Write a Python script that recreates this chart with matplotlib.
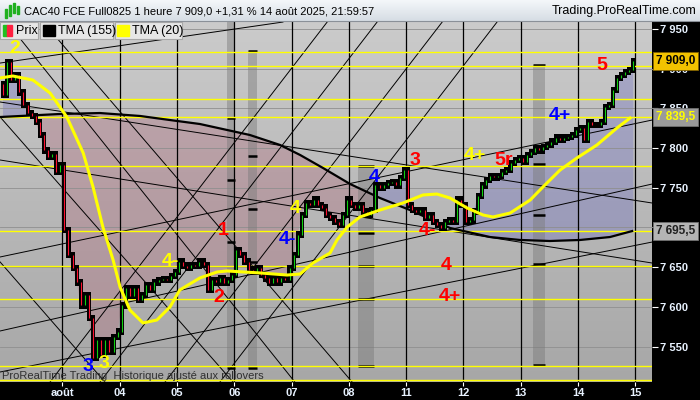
import numpy as np
import matplotlib.pyplot as plt
from matplotlib.patches import Rectangle
from matplotlib.colors import LinearSegmentedColormap

plt.rcParams['font.family'] = ['Liberation Sans', 'DejaVu Sans']

# hourly closes, 31 Jul (evening) .. 14 Aug 2025
first_open = 7880
closes = [
    7867, 7908, 7886, 7892, 7870, 7854, 7844, 7840, 7833, 7816, 7797, 7789, 7792, 7770, 7779,
    7697, 7665, 7649, 7631, 7602, 7615, 7586, 7536, 7558, 7540, 7558, 7543, 7562, 7569,
    7602, 7624, 7614, 7624, 7609, 7615, 7628, 7621, 7631, 7634, 7635, 7634, 7639, 7644,
    7657, 7652, 7649, 7653, 7652, 7657, 7653, 7621, 7634, 7631, 7636, 7630, 7634, 7640,
    7672, 7665, 7657, 7647, 7644, 7649, 7640, 7636, 7630, 7636, 7631, 7636, 7634, 7649,
    7665, 7691, 7716, 7731, 7728, 7735, 7728, 7725, 7716, 7712, 7707, 7703, 7716, 7735,
    7728, 7725, 7728, 7720, 7716, 7722, 7753, 7750, 7753, 7756, 7757, 7753, 7762, 7772,
    7728, 7722, 7720, 7722, 7712, 7716, 7707, 7703, 7699, 7707, 7709, 7707, 7735, 7728,
    7707, 7709, 7720, 7740, 7753, 7760, 7765, 7763, 7765, 7770, 7772, 7781, 7785, 7787,
    7782, 7791, 7795, 7800, 7797, 7801, 7804, 7808, 7813, 7810, 7813, 7814, 7816, 7823,
    7825, 7810, 7833, 7829, 7829, 7833, 7852, 7854, 7873, 7888, 7892, 7896, 7898, 7909,
]

# moving averages (bar index, price)
tma155_x = [-0.7, 13.9, 23.7, 33.5, 40.8, 48.1, 60.3, 67.7, 72.6, 78.2, 84.8, 92.1, 99.4,
            109.2, 119.0, 126.3, 133.6, 141.0, 148.3, 153.7]
tma155_y = [7839.0, 7842.8, 7844.0, 7840.3, 7835.2, 7830.2, 7816.4, 7803.8, 7791.2, 7774.8,
            7754.7, 7737.1, 7722.0, 7699.4, 7688.0, 7684.3, 7683.0, 7684.3, 7688.0, 7695.5]
tma20_x = [-0.7, 2.4, 7.3, 11.5, 15.6, 19.6, 22.0, 24.4, 26.9, 28.6, 31.0, 34.2, 37.6, 40.8,
           43.2, 48.1, 52.3, 54.7, 62.8, 69.4, 72.6, 75.7, 79.9, 81.6, 84.1, 87.2, 92.1, 97.7,
           102.6, 106.0, 109.2, 113.4, 117.3, 119.7, 123.9, 128.8, 131.9, 136.1, 140.2, 145.1,
           150.0, 153.2]
tma20_y = [7888.1, 7890.6, 7885.5, 7869.2, 7839.0, 7793.7, 7750.9, 7700.6, 7659.1, 7625.1,
           7596.2, 7579.9, 7583.6, 7600.0, 7621.4, 7636.5, 7644.0, 7645.3, 7642.8, 7640.2,
           7641.5, 7655.3, 7667.9, 7684.3, 7700.6, 7713.2, 7722.0, 7730.8, 7740.9, 7742.1,
           7737.1, 7724.5, 7715.7, 7713.2, 7718.2, 7734.6, 7750.9, 7772.3, 7787.4, 7803.8,
           7825.2, 7837.7]

levels = [7920.8, 7903.2, 7861.6, 7839.5, 7777.4, 7695.5, 7651.6, 7610.0, 7525.8, 7508.1]

# trend lines: (bar0, price0, bar1, price1)
trend_lines = [
    (-0.7, 7906.9, 68.4, 7958.5),
    (-0.7, 7857.9, 158.6, 7730.8),
    (-0.7, 7784.9, 158.6, 7655.3),
    (-0.7, 7518.2, 158.6, 7681.7),
    (-0.7, 7569.8, 158.6, 7754.7),
    (-0.7, 7662.9, 158.6, 7835.2),
    (-0.7, 7656.6, 24.9, 7505.6),
    (-0.7, 7839.0, 56.2, 7505.6),
    (2.9, 7945.9, 71.3, 7505.6),
    (9.8, 7958.5, 85.3, 7505.6),
    (11.5, 7505.6, 79.2, 7958.5),
    (23.7, 7505.6, 91.4, 7958.5),
    (39.6, 7505.6, 107.3, 7958.5),
    (53.0, 7505.6, 120.7, 7958.5),
]

# grey range bands: (bar0, bar1, top, bottom, marks)
bands = [
    (54.7, 56.7, 7960.0, 7523.2, [7837.7, 7759.7, 7681.7, 7523.2]),
    (59.9, 62.1, 7922.0, 7523.2, [7922.0, 7789.9, 7723.3, 7656.6, 7523.2]),
    (86.7, 90.6, 7777.4, 7525.8, [7777.4, 7693.1, 7651.6, 7610.0, 7525.8]),
    (129.5, 132.4, 7904.4, 7527.0, [7904.4, 7779.9, 7715.7, 7654.1, 7527.0]),
]

wave_labels = [
    (2.9, 7925.8, '2', '#ffff00'),
    (20.8, 7524.5, '3', '#0000ff'),
    (24.7, 7529.5, '3', '#ffff00'),
    (40.8, 7656.6, '4-', '#ffff00'),
    (53.8, 7695.6, '1', '#ff0000'),
    (52.8, 7611.3, '2', '#ff0000'),
    (69.4, 7684.3, '4-', '#0000ff'),
    (71.3, 7724.5, '4', '#ffff00'),
    (90.6, 7763.5, '4', '#0000ff'),
    (100.7, 7784.9, '3', '#ff0000'),
    (103.8, 7696.8, '4-', '#ff0000'),
    (108.2, 7652.8, '4', '#ff0000'),
    (109.2, 7612.6, '4+', '#ff0000'),
    (115.3, 7791.2, '4+', '#ffff00'),
    (122.2, 7784.9, '5r', '#ff0000'),
    (136.1, 7841.5, '4+', '#0000ff'),
    (146.3, 7904.4, '5', '#ff0000'),
]

day_pos = [14.5, 28.5, 42.5, 56.5, 70.5, 84.5, 98.5, 112.5, 126.5, 140.5, 154.5]
day_labels = ['août', '04', '05', '06', '07', '08', '11', '12', '13', '14', '15']
y_ticks = [7550, 7600, 7650, 7700, 7750, 7800, 7850, 7900, 7950]
# 7 700 sits fully under the TMA(155) price tag
y_labels = ['7 550', '7 600', '7 650', '', '7 750', '7 800', '7 850', '7 900', '7 950']

fig = plt.figure(figsize=(7, 4), dpi=100, facecolor='black')
ax = fig.add_axes([0, 18 / 400, 652 / 700, 361 / 400])
x0, x1 = -0.73, 158.56
y0, y1 = 7505.6, 7959.8
ax.set_xlim(x0, x1)
ax.set_ylim(y0, y1)

# background gradient
grad = np.linspace(0, 1, 256).reshape(-1, 1)
ax.imshow(grad, extent=[x0, x1, y0, y1], aspect='auto', zorder=0, origin='upper',
          cmap=LinearSegmentedColormap.from_list('bg', ['#cbcbcb', '#a7a7a7']))

bars = np.arange(len(closes))
c = np.array(closes, dtype=float)
o = np.concatenate([[first_open], c[:-1]])
tma_on_bars = np.interp(bars, tma155_x, tma155_y)

ax.fill_between(bars, c, tma_on_bars, where=c < tma_on_bars, interpolate=True,
                color='#b07080', alpha=0.38, lw=0, zorder=1)
ax.fill_between(bars, c, tma_on_bars, where=c >= tma_on_bars, interpolate=True,
                color='#6a6ac0', alpha=0.35, lw=0, zorder=1)

for t in y_ticks:
    ax.axhline(t, color='#8f8f8f', lw=0.6, zorder=1.5)

for b0, b1, top, bot, marks in bands:
    ax.add_patch(Rectangle((b0, bot), b1 - b0, top - bot, color='#7a7a7a', alpha=0.45, lw=0, zorder=1.6))
    for m in marks:
        ax.plot([b0, b1], [m, m], color='black', lw=1.8, zorder=1.7, solid_capstyle='butt')

for d in day_pos:
    ax.axvline(d, color='black', lw=0.9, zorder=2)

for bx0, p0, bx1, p1 in trend_lines:
    ax.plot([bx0, bx1], [p0, p1], color='black', lw=0.7, zorder=2.2)

for lv in levels:
    ax.axhline(lv, color='#ffff00', lw=1.0, zorder=2.4)

ax.plot(tma155_x, tma155_y, color='black', lw=1.6, zorder=3)

# candles
lo = np.minimum(o, c) - 4.0
hi = np.maximum(o, c) + 4.0
ax.bar(bars, hi - lo, bottom=lo, width=1.0, color='black', lw=0, zorder=4)
cols = np.where(c >= o, '#10d010', '#ff1030')
ax.vlines(bars, np.minimum(o, c), np.maximum(o, c), colors=cols, lw=0.8, zorder=4.5)

ax.plot(tma20_x, tma20_y, color='#ffff00', lw=2.2, zorder=5)

for bx, p, txt, col in wave_labels:
    ax.text(bx, p, txt, color=col, fontsize=14, fontweight='bold', ha='center', va='center', zorder=6)

# axes styling
for s in ax.spines.values():
    s.set_visible(False)
ax.yaxis.tick_right()
ax.set_yticks(y_ticks)
ax.set_yticklabels(y_labels)
ax.set_xticks(day_pos)
ax.set_xticklabels(day_labels)
ax.tick_params(axis='y', colors='white', length=4, pad=2, labelsize=8, labelcolor='#e8f2ff')
ax.tick_params(axis='x', colors='white', length=3, pad=1, labelsize=8, labelcolor='#e8f2ff')
for lab in ax.get_xticklabels() + ax.get_yticklabels():
    lab.set_fontweight('bold')

ytr = ax.get_yaxis_transform()
tag_style = dict(transform=ytr, fontsize=8.5, fontweight='bold', va='center', ha='left',
                 zorder=10, clip_on=False)
ax.text(1.006, 7909.0, '7 909,0', color='black',
        bbox=dict(boxstyle='square,pad=0.25', fc='#f2c200', ec='#806000', lw=0.6), **tag_style)
ax.text(1.006, 7839.5, '7 839,5', color='#ffff00',
        bbox=dict(boxstyle='square,pad=0.25', fc='#9a9a9a', ec='#707070', lw=0.6), **tag_style)
ax.text(1.006, 7695.5, '7 695,5', color='#202020',
        bbox=dict(boxstyle='square,pad=0.25', fc='#b4b4b4', ec='#707070', lw=0.6), **tag_style)

# overlay in pixel coordinates: title bar, legend, watermark
ov = fig.add_axes([0, 0, 1, 1], zorder=10)
ov.patch.set_alpha(0)
ov.imshow(np.linspace(0, 1, 64).reshape(-1, 1), extent=[0, 700, 21, 0], aspect='auto',
          cmap=LinearSegmentedColormap.from_list('tb', ['#f4f7fa', '#d6dde4']))
ov.plot([0, 700], [21, 21], color='#8a9098', lw=0.8)
ov.set_xlim(0, 700)
ov.set_ylim(400, 0)
ov.axis('off')

ov.add_patch(Rectangle((5, 9), 2, 9, color='#20b020'))
ov.add_patch(Rectangle((9, 5), 2, 11, color='#20b020'))
ov.add_patch(Rectangle((13, 3), 2, 10, color='#20b020'))
ov.add_patch(Rectangle((17, 6), 2, 8, color='#20b020'))
ov.text(24, 11, 'CAC40 FCE Full0825 1 heure 7 909,0 +1,31 % 14 août 2025, 21:59:57',
        fontsize=8, va='center', ha='left', color='black')
ov.text(696, 11, 'Trading.ProRealTime.com', fontsize=9, va='center', ha='right', color='black')

legend_boxes = [(0, 38), (40, 113), (115, 182)]
for bx0, bx1 in legend_boxes:
    ov.add_patch(Rectangle((bx0, 22), bx1 - bx0, 17, fc='#e6e6e6', ec='#a8a8a8', lw=0.8))
ov.add_patch(Rectangle((3, 25), 4, 11, color='#20c020'))
ov.add_patch(Rectangle((7, 25), 5, 11, color='#ff2040'))
ov.text(16, 31, 'Prix', fontsize=9, va='center', ha='left')
ov.add_patch(Rectangle((43, 25), 12, 11, color='black'))
ov.text(58, 31, 'TMA (155)', fontsize=9, va='center', ha='left')
ov.add_patch(Rectangle((117, 25), 12, 11, color='#ffff00'))
ov.text(132, 31, 'TMA (20)', fontsize=9, va='center', ha='left')

ov.text(2, 376, 'ProRealTime Trading  Historique ajusté aux rollovers', fontsize=8,
        va='center', ha='left', color='#303030')

fig.savefig('out.png', dpi=100, facecolor='black')
